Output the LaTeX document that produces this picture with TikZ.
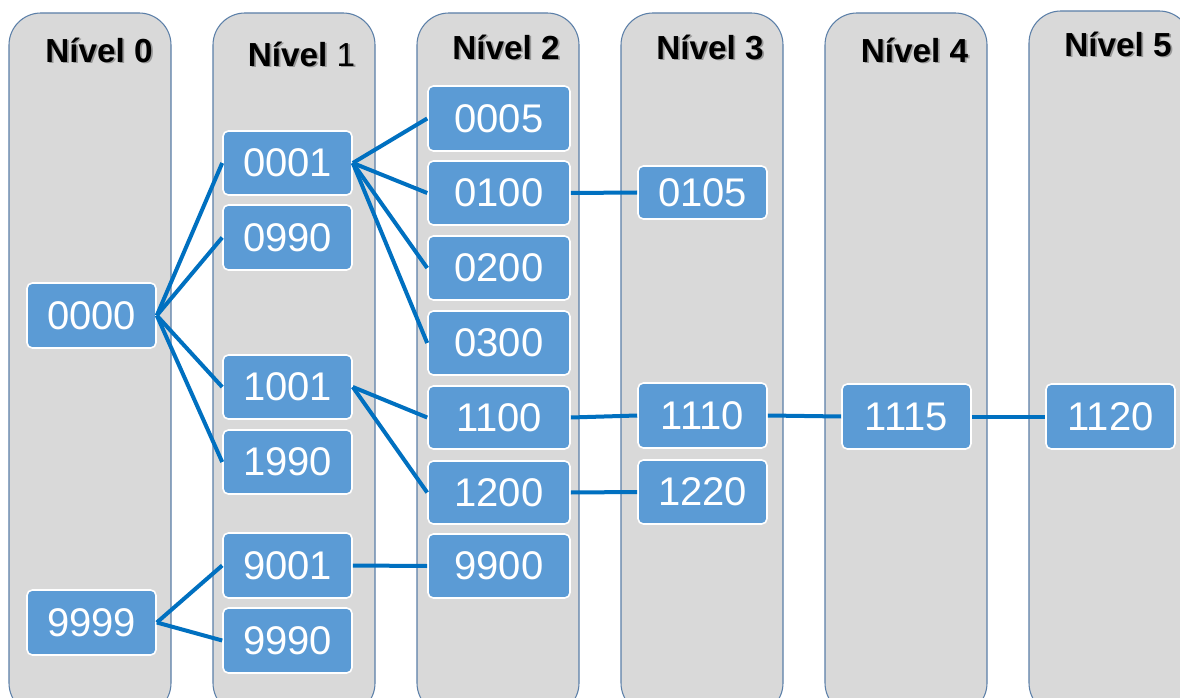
\documentclass[tikz,border=0pt]{standalone}
\usepackage{fontspec}
\setmainfont{Liberation Sans}
\definecolor{colfill}{HTML}{D9D9D9}
\definecolor{coldraw}{HTML}{5B7FA8}
\definecolor{boxfill}{HTML}{5B9BD5}
\definecolor{linec}{HTML}{0070C0}
\begin{document}
\begin{tikzpicture}[x=0.75pt,y=-0.75pt,
  column/.style={fill=colfill,draw=coldraw,line width=0.8pt,rounded corners=24pt},
  hdr/.style={font=\fontsize{25}{25}\selectfont\bfseries,text=black,inner sep=0pt},
  hdrshadow/.style={font=\fontsize{25}{25}\selectfont\bfseries,text=black!40,inner sep=0pt},
  box/.style={fill=boxfill,draw=white,line width=1.2pt,rounded corners=4pt,
    text=white,font=\fontsize{30}{30}\selectfont,inner sep=0pt},
  conn/.style={draw=linec,line width=3pt}]
\clip (0,0) rectangle (1180,698);
\fill[white] (0,0) rectangle (1180,698);
% columns
\foreach \i in {0,...,4}{
  \draw[column] ({9+204*\i},13) rectangle ({171+204*\i},715);
}
\draw[column] (1029,11) rectangle (1191,715);
% headers (with shadow)
\newcommand\hdrnode[4]{%
  \node[hdrshadow] (#1s) at ({#2+1.8},{#3+1.8}) {#4};
  \node[hdr] (#1) at (#2,#3) {#4};}
\hdrnode{h0}{99}{50}{Nível 0}
\hdrnode{h1}{301.5}{54}{Nível {\mdseries 1}}
\hdrnode{h2}{506}{47}{Nível 2}
\hdrnode{h3}{710}{47}{Nível 3}
\hdrnode{h4}{914.5}{50}{Nível 4}
\hdrnode{h5}{1118}{44}{Nível 5}
% boxes
\newcommand\bx[6]{%
  \node[box,minimum width={(#4-#2)*0.75pt},minimum height={(#5-#3)*0.75pt}]
    (#1) at ({(#2+#4)/2},{(#3+#5)/2}) {#6};}
% connectors (drawn first, boxes on top)
\bx{a0000}{27}{283}{156}{348}{0000}
\bx{a9999}{27}{590}{156}{655}{9999}
\bx{b0001}{223}{131}{352}{195}{0001}
\bx{b0990}{223}{205}{352}{270}{0990}
\bx{b1001}{223}{355}{352}{419}{1001}
\bx{b1990}{223}{430}{352}{494}{1990}
\bx{b9001}{223}{533}{352}{598}{9001}
\bx{b9990}{223}{608}{352}{673}{9990}
\bx{c0005}{428}{86}{570}{151}{0005}
\bx{c0100}{428}{161}{570}{225}{0100}
\bx{c0200}{428}{236}{570}{300}{0200}
\bx{c0300}{428}{311}{570}{375}{0300}
\bx{c1100}{428}{386}{570}{449}{1100}
\bx{c1200}{428}{461}{570}{524}{1200}
\bx{c9900}{428}{534}{570}{598}{9900}
\bx{d0105}{638}{166}{767}{219}{0105}
\bx{d1110}{638}{383}{767}{448}{1110}
\bx{d1220}{638}{460}{767}{524}{1220}
\bx{e1115}{842}{384}{971}{449}{1115}
\bx{f1120}{1046}{384}{1175}{449}{1120}
\foreach \t in {b0001,b0990,b1001,b1990}{\draw[conn] (a0000.east) -- (\t.west);}
\foreach \t in {b9001,b9990}{\draw[conn] (a9999.east) -- (\t.west);}
\foreach \t in {c0005,c0100,c0200,c0300}{\draw[conn] (b0001.east) -- (\t.west);}
\foreach \t in {c1100,c1200}{\draw[conn] (b1001.east) -- (\t.west);}
\draw[conn] (b9001.east) -- (c9900.west);
\draw[conn] (c0100.east) -- (d0105.west);
\draw[conn] (c1100.east) -- (d1110.west);
\draw[conn] (c1200.east) -- (d1220.west);
\draw[conn] (d1110.east) -- (e1115.west);
\draw[conn] (e1115.east) -- (f1120.west);
\end{tikzpicture}
\end{document}
